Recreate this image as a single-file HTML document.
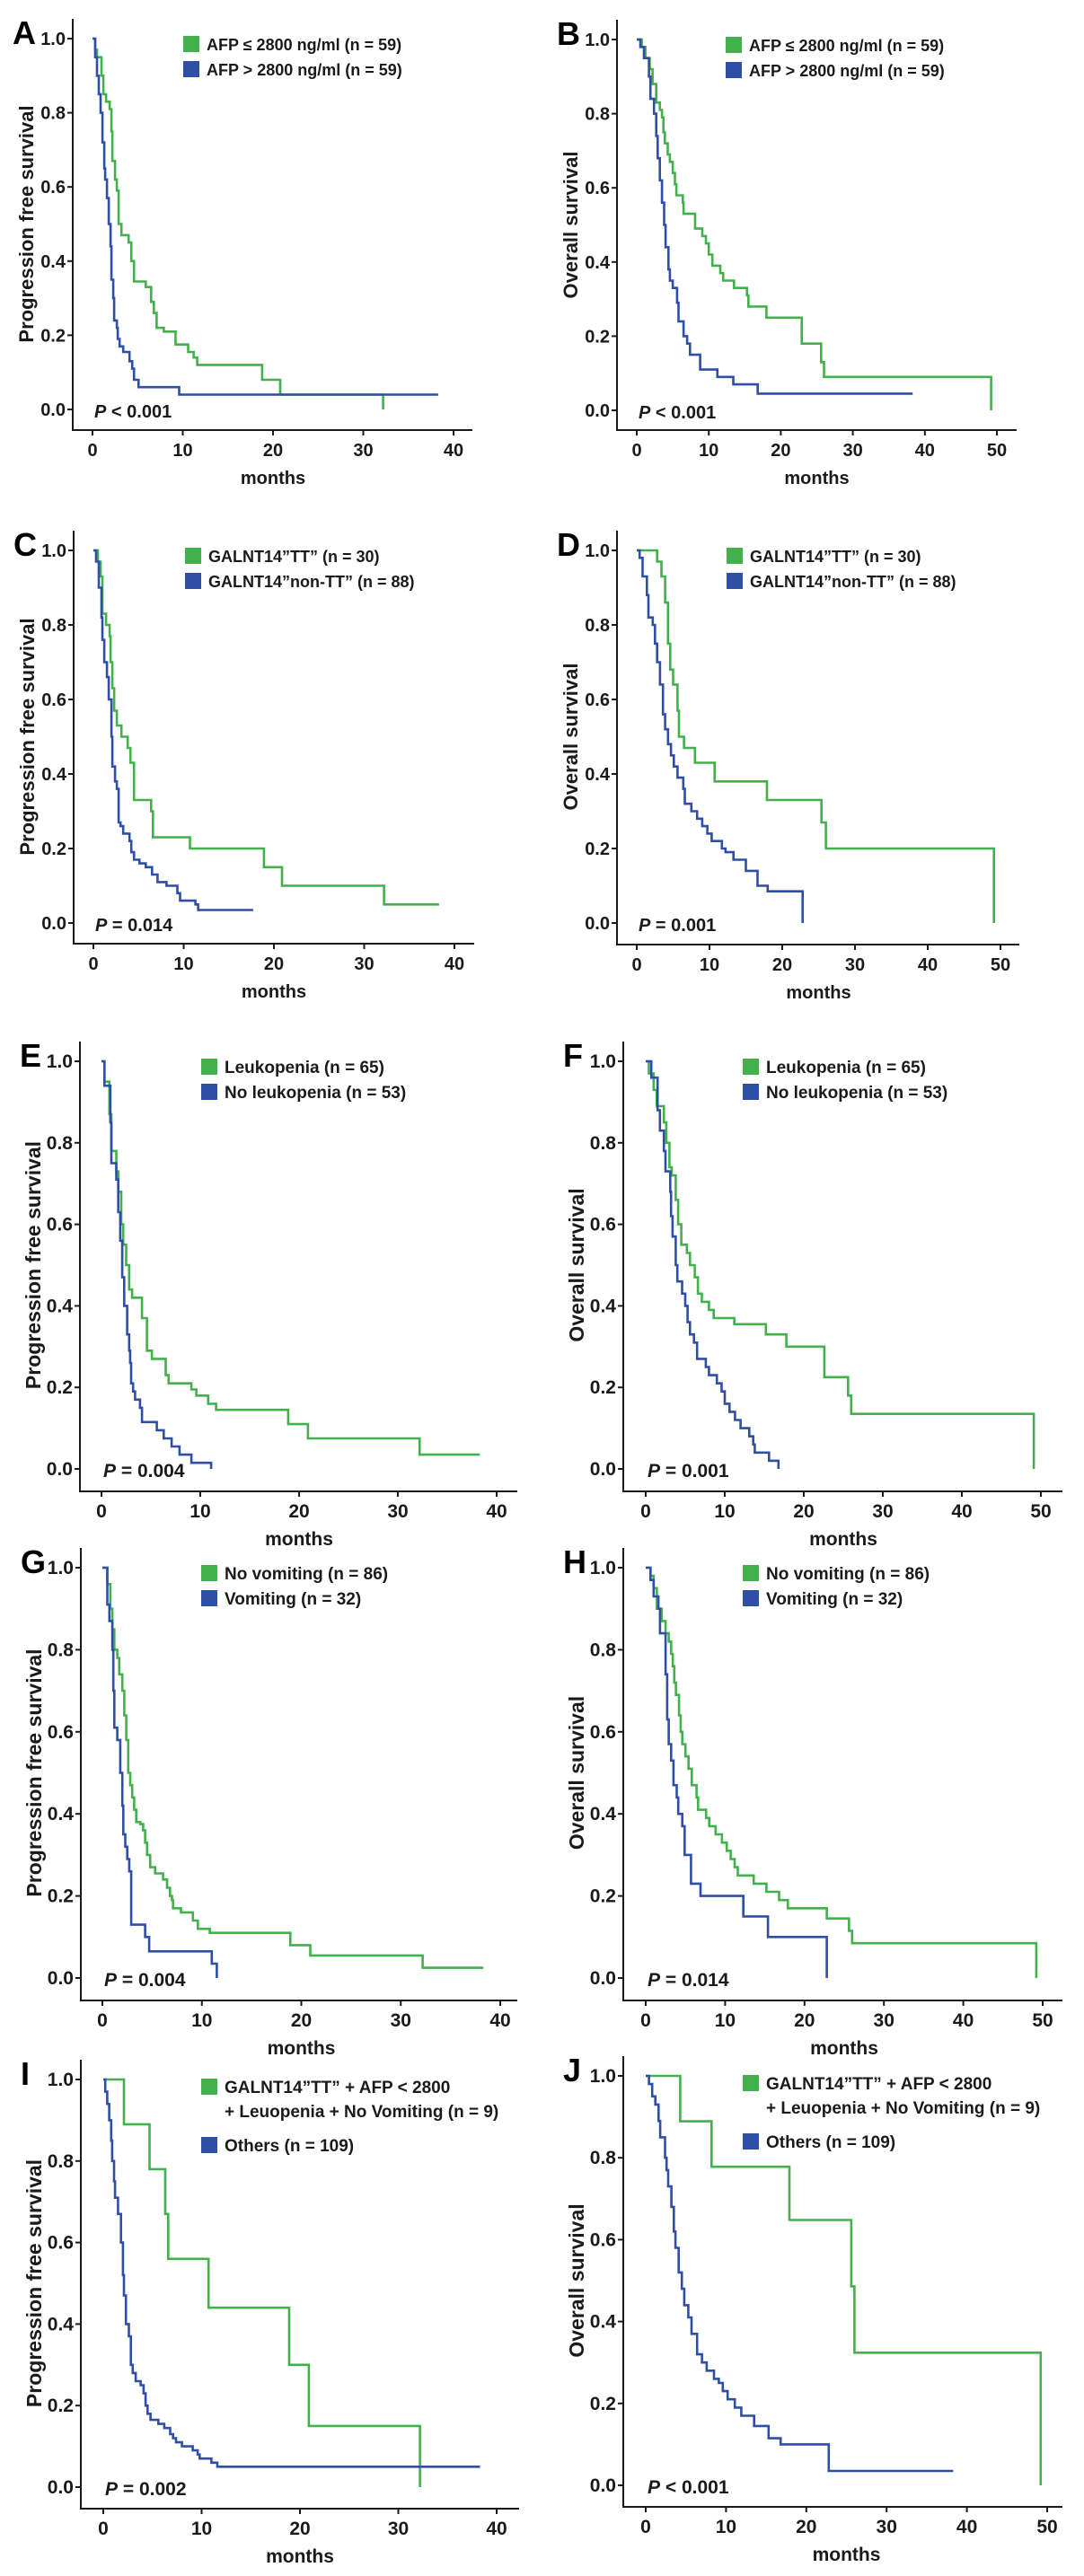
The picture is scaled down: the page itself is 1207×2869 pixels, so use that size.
<!DOCTYPE html>
<html><head><meta charset="utf-8"><style>
html,body{margin:0;padding:0;background:#fff}
svg{display:block;font-family:"Liberation Sans",Arial,sans-serif;font-weight:bold}
</style></head><body>
<svg id="fig" width="1207" height="2869" viewBox="0 0 1207 2869"></svg>
<script>
// ---- data (months of each step, survival after step, last follow-up) ----
const A_g_t=[0.3,0.5,1,1.2,1.5,1.9,2.1,2.2,2.5,2.7,2.9,3.2,4,4.3,4.6,5.9,6.5,6.8,7.1,7.9,9.2,10.6,11.2,11.6,18.8,20.8,32.2];
const A_g_s=[0.97,0.95,0.9,0.85,0.83,0.81,0.75,0.67,0.62,0.59,0.5,0.47,0.45,0.4,0.345,0.33,0.29,0.26,0.22,0.21,0.175,0.155,0.14,0.12,0.08,0.04,0];
const A_g_end=32.2;
const A_b_t=[0.3,0.5,0.7,0.9,1.1,1.3,1.4,1.6,1.8,2.0,2.1,2.3,2.4,2.7,2.8,3.0,3.4,4.1,4.4,4.6,5.1,9.6];
const A_b_s=[0.95,0.9,0.85,0.8,0.72,0.65,0.62,0.57,0.5,0.44,0.35,0.3,0.24,0.22,0.19,0.17,0.155,0.13,0.11,0.08,0.06,0.04];
const A_b_end=38.3;

const B_g_t=[0.7,1.2,1.8,2.2,2.7,3.2,3.5,3.7,3.9,4.3,4.6,5.0,5.3,5.5,6.4,6.5,8.1,9.1,9.6,10,10.5,11.6,12,13.5,15.3,15.5,18,22.9,25.6,26,49.2];
const B_g_s=[0.98,0.95,0.92,0.88,0.83,0.81,0.79,0.75,0.72,0.69,0.67,0.64,0.61,0.58,0.56,0.53,0.49,0.47,0.45,0.42,0.39,0.37,0.35,0.33,0.31,0.28,0.25,0.18,0.13,0.09,0];
const B_g_end=49.2;
const B_b_t=[0.5,1.0,1.7,1.9,2.4,2.7,2.9,3.2,3.5,3.8,4.0,4.4,4.6,5.0,5.6,5.8,6.5,7.0,7.4,8.8,11.2,13.4,16.8];
const B_b_s=[0.98,0.95,0.9,0.84,0.8,0.74,0.68,0.62,0.56,0.5,0.44,0.38,0.35,0.33,0.29,0.24,0.2,0.18,0.15,0.11,0.09,0.07,0.045];
const B_b_end=38.3;

const C_g_t=[0.5,0.8,1.0,1.4,1.8,1.9,2.1,2.3,2.6,3.1,3.8,4.1,4.5,6.4,6.6,10.7,18.9,20.9,32.2];
const C_g_s=[0.97,0.93,0.83,0.8,0.77,0.7,0.63,0.57,0.53,0.5,0.47,0.43,0.33,0.3,0.23,0.2,0.15,0.1,0.05];
const C_g_end=38.3;
const C_b_t=[0.3,0.6,0.9,1.0,1.2,1.5,1.7,2.0,2.1,2.4,2.6,2.8,3.0,3.3,4.0,4.2,4.5,5.1,5.8,6.5,7.1,8.1,9.3,9.6,11.3,11.6];
const C_b_s=[0.97,0.9,0.82,0.76,0.7,0.66,0.6,0.5,0.42,0.38,0.36,0.27,0.26,0.24,0.22,0.19,0.17,0.16,0.15,0.13,0.11,0.1,0.08,0.06,0.05,0.035];
const C_b_end=17.7;

const D_g_t=[2.8,3.4,3.9,4.3,4.6,5.0,5.6,5.8,6.5,8.0,10.7,17.9,25.4,26,49.1];
const D_g_s=[0.97,0.93,0.86,0.75,0.68,0.64,0.57,0.5,0.47,0.43,0.38,0.33,0.27,0.2,0];
const D_g_end=49.1;
const D_b_t=[0.4,0.8,1.4,1.6,2.2,2.5,2.8,3.2,3.6,3.9,4.3,4.7,5.1,5.6,6.4,6.6,7.5,8.3,9.0,9.7,10.3,11.7,12.2,13.3,15.0,16.6,18.0,22.8];
const D_b_s=[0.98,0.93,0.88,0.82,0.8,0.75,0.7,0.64,0.56,0.52,0.48,0.45,0.42,0.39,0.36,0.32,0.3,0.28,0.26,0.24,0.22,0.2,0.19,0.17,0.14,0.1,0.085,0];
const D_b_end=22.8;

const E_g_t=[0.3,0.8,1.0,1.5,1.7,2.0,2.2,2.5,2.8,3.1,4.1,4.6,5.1,6.5,6.8,9.1,9.6,10.8,11.6,18.9,20.9,32.2];
const E_g_s=[0.95,0.87,0.78,0.73,0.68,0.6,0.55,0.5,0.44,0.42,0.37,0.29,0.27,0.23,0.21,0.195,0.18,0.16,0.145,0.11,0.075,0.035];
const E_g_end=38.3;
const E_b_t=[0.3,0.9,1.0,1.5,1.7,1.9,2.1,2.3,2.6,2.8,2.9,3.0,3.2,3.4,3.9,4.1,5.6,6.3,7.1,7.9,9.1,11.1];
const E_b_s=[0.94,0.85,0.75,0.71,0.63,0.56,0.47,0.4,0.33,0.29,0.26,0.21,0.19,0.17,0.15,0.115,0.095,0.075,0.055,0.035,0.015,0];
const E_b_end=11.1;

const F_g_t=[0.4,1.0,1.4,2.3,2.6,3.0,3.3,3.8,4.1,4.5,5.2,5.6,6.2,6.6,7.1,8.0,8.6,11.2,15.2,17.8,22.6,25.6,26,49.1];
const F_g_s=[0.97,0.93,0.89,0.85,0.8,0.74,0.72,0.66,0.6,0.55,0.53,0.5,0.47,0.43,0.41,0.39,0.37,0.355,0.33,0.3,0.225,0.18,0.135,0];
const F_g_end=49.1;
const F_b_t=[0.7,1.5,1.8,2.3,2.5,3.1,3.2,3.4,3.8,4.0,4.6,5.0,5.3,5.6,6.1,6.5,7.6,8.0,9.0,9.6,10.0,10.6,11.3,12.0,13.1,13.6,13.8,15.6,16.8];
const F_b_s=[0.96,0.88,0.83,0.78,0.73,0.68,0.62,0.57,0.5,0.46,0.43,0.4,0.36,0.33,0.31,0.27,0.25,0.23,0.21,0.19,0.16,0.14,0.12,0.1,0.08,0.06,0.04,0.02,0];
const F_b_end=16.8;

const G_g_t=[0.5,0.8,1.0,1.2,1.5,1.7,2.0,2.2,2.4,2.6,2.8,3.0,3.2,3.4,3.8,4.1,4.3,4.5,4.8,5.3,6.1,6.5,6.8,7.0,7.1,7.9,9.1,9.6,10.8,18.9,20.9,32.2];
const G_g_s=[0.96,0.9,0.85,0.8,0.78,0.74,0.7,0.64,0.58,0.5,0.47,0.44,0.41,0.38,0.375,0.36,0.33,0.3,0.27,0.255,0.24,0.22,0.2,0.19,0.17,0.16,0.14,0.12,0.11,0.08,0.055,0.025];
const G_g_end=38.3;
const G_b_t=[0.5,0.7,1.0,1.1,1.2,1.5,1.8,2.0,2.1,2.3,2.5,2.7,2.9,4.3,4.7,11.0,11.5];
const G_b_s=[0.91,0.87,0.8,0.7,0.61,0.58,0.5,0.42,0.35,0.32,0.29,0.26,0.13,0.1,0.065,0.035,0];
const G_b_end=11.5;

const H_g_t=[0.6,1.0,1.4,2.0,2.5,2.9,3.2,3.4,3.6,3.8,4.2,4.4,4.6,5.0,5.4,5.8,6.4,6.6,7.6,8.0,8.8,9.6,10.2,10.7,11.2,11.6,13.6,15.2,16.8,17.9,22.8,25.6,26,49.2];
const H_g_s=[0.98,0.95,0.9,0.87,0.84,0.82,0.79,0.76,0.72,0.69,0.64,0.6,0.57,0.54,0.51,0.47,0.44,0.41,0.39,0.37,0.35,0.33,0.31,0.29,0.27,0.25,0.23,0.21,0.19,0.17,0.145,0.115,0.085,0];
const H_g_end=49.2;
const H_b_t=[0.6,1.0,1.6,1.8,2.5,2.7,2.9,3.2,3.5,3.9,4.1,4.6,4.9,5.7,6.9,12.3,15.4,22.8];
const H_b_s=[0.97,0.93,0.9,0.84,0.74,0.63,0.57,0.53,0.47,0.44,0.4,0.37,0.3,0.23,0.2,0.15,0.1,0];
const H_b_end=22.8;

const I_g_t=[2.1,4.7,6.3,6.6,10.7,18.9,20.9,32.2];
const I_g_s=[0.89,0.78,0.67,0.56,0.44,0.3,0.15,0];
const I_g_end=32.2;
const I_b_t=[0.2,0.4,0.6,0.8,0.9,1.1,1.2,1.5,1.8,2.0,2.1,2.3,2.6,2.8,3.0,3.3,3.8,4.1,4.3,4.5,4.8,5.6,6.2,6.8,7.1,7.4,8.0,9.1,9.6,9.8,11.0,11.6];
const I_b_s=[0.97,0.94,0.9,0.85,0.8,0.75,0.71,0.67,0.6,0.52,0.47,0.4,0.37,0.3,0.28,0.26,0.25,0.23,0.2,0.18,0.165,0.155,0.145,0.13,0.12,0.11,0.1,0.09,0.08,0.07,0.06,0.05];
const I_b_end=38.3;

const J_g_t=[4.3,8.2,17.9,25.6,26.0,49.2];
const J_g_s=[0.889,0.778,0.648,0.486,0.324,0];
const J_g_end=49.2;
const J_b_t=[0.4,0.8,1.2,1.6,1.8,2.4,2.6,2.8,3.2,3.5,3.7,4.1,4.5,4.8,5.3,5.7,6.4,7.0,7.6,8.5,9.1,9.6,10.2,11.1,11.9,13.5,15.3,16.8,22.8];
const J_b_s=[0.98,0.95,0.93,0.89,0.85,0.8,0.77,0.73,0.68,0.62,0.58,0.52,0.48,0.44,0.41,0.37,0.32,0.3,0.28,0.26,0.25,0.23,0.21,0.19,0.17,0.145,0.115,0.1,0.035];
const J_b_end=38.3;

const yTickVals=[0,0.2,0.4,0.6,0.8,1.0];
const yTickLabels=["0.0","0.2","0.4","0.6","0.8","1.0"];
const xTicks40=[0,10,20,30,40];
const xTicks50=[0,10,20,30,40,50];

const legendAFP=["AFP \u2264 2800 ng/ml (n = 59)","AFP > 2800 ng/ml (n = 59)"];
const legendGAL=["GALNT14\u201dTT\u201d (n = 30)","GALNT14\u201dnon-TT\u201d (n = 88)"];
const legendLEU=["Leukopenia (n = 65)","No leukopenia (n = 53)"];
const legendVOM=["No vomiting (n = 86)","Vomiting (n = 32)"];
const legendCOMB=["GALNT14\u201dTT\u201d + AFP < 2800","+ Leuopenia + No Vomiting (n = 9)","Others (n = 109)"];

// ---- layout ----
const GREEN="#43b14b", BLUE="#2f4ea6", INK="#1a1a1a";
const NS="http://www.w3.org/2000/svg";
const svg=document.getElementById('fig');
function mk(tag,attrs,parent){const e=document.createElementNS(NS,tag);for(const k in attrs)e.setAttribute(k,attrs[k]);(parent||svg).appendChild(e);return e;}

const panels=[
 {id:'A',ax:81,x0:103,xm:505,tmax:40,y1:43,y0:456,axY:479,right:526,ytitle:'Progression free survival',p:'< 0.001',leg:legendAFP,lx:204,g:[A_g_t,A_g_s,A_g_end],b:[A_b_t,A_b_s,A_b_end],fs:18,tfs:20},
 {id:'B',ax:687,x0:709,xm:1110,tmax:50,y1:44,y0:457,axY:479,right:1132,ytitle:'Overall survival',p:'< 0.001',leg:legendAFP,lx:808,g:[B_g_t,B_g_s,B_g_end],b:[B_b_t,B_b_s,B_b_end],fs:18,tfs:20},
 {id:'C',ax:82,x0:104,xm:506,tmax:40,y1:613,y0:1028,axY:1051,right:528,ytitle:'Progression free survival',p:'= 0.014',leg:legendGAL,lx:206,g:[C_g_t,C_g_s,C_g_end],b:[C_b_t,C_b_s,C_b_end],fs:18,tfs:20},
 {id:'D',ax:687,x0:709,xm:1114,tmax:50,y1:613,y0:1028,axY:1052,right:1135,ytitle:'Overall survival',p:'= 0.001',leg:legendGAL,lx:809,g:[D_g_t,D_g_s,D_g_end],b:[D_b_t,D_b_s,D_b_end],fs:18,tfs:20},
 {id:'E',ax:89,x0:113,xm:553,tmax:40,y1:1182,y0:1636,axY:1661,right:576,ytitle:'Progression free survival',p:'= 0.004',leg:legendLEU,lx:224,g:[E_g_t,E_g_s,E_g_end],b:[E_b_t,E_b_s,E_b_end],fs:19,tfs:21},
 {id:'F',ax:694,x0:719,xm:1159,tmax:50,y1:1182,y0:1636,axY:1661,right:1183,ytitle:'Overall survival',p:'= 0.001',leg:legendLEU,lx:827,g:[F_g_t,F_g_s,F_g_end],b:[F_b_t,F_b_s,F_b_end],fs:19,tfs:21},
 {id:'G',ax:90,x0:114,xm:557,tmax:40,y1:1746,y0:2203,axY:2228,right:576,ytitle:'Progression free survival',p:'= 0.004',leg:legendVOM,lx:224,g:[G_g_t,G_g_s,G_g_end],b:[G_b_t,G_b_s,G_b_end],fs:19,tfs:21},
 {id:'H',ax:694,x0:719,xm:1161,tmax:50,y1:1746,y0:2203,axY:2228,right:1183,ytitle:'Overall survival',p:'= 0.014',leg:legendVOM,lx:827,g:[H_g_t,H_g_s,H_g_end],b:[H_b_t,H_b_s,H_b_end],fs:19,tfs:21},
 {id:'I',ax:90,x0:115,xm:553,tmax:40,y1:2316,y0:2770,axY:2794,right:578,ytitle:'Progression free survival',p:'= 0.002',leg:legendCOMB,lx:224,g:[I_g_t,I_g_s,I_g_end],b:[I_b_t,I_b_s,I_b_end],fs:19,tfs:21},
 {id:'J',ax:694,x0:719,xm:1166,tmax:50,y1:2312,y0:2768,axY:2792,right:1183,ytitle:'Overall survival',p:'< 0.001',leg:legendCOMB,lx:827,g:[J_g_t,J_g_s,J_g_end],b:[J_b_t,J_b_s,J_b_end],fs:19,tfs:21}
];

panels.forEach(P=>{
  const L=P.id.toLowerCase();
  const g=mk('g',{});
  
  
  const sx=v=>P.x0+(P.xm-P.x0)*v/P.tmax;
  const sy=v=>P.y0-(P.y0-P.y1)*v;
  // axes
  const ya=mk('line',{x1:P.ax,y1:P.y1-22,x2:P.ax,y2:P.axY,stroke:INK,'stroke-width':2},g);
  
  
  const xa=mk('line',{x1:P.ax-1,y1:P.axY,x2:P.right,y2:P.axY,stroke:INK,'stroke-width':2},g);
  
  
  yTickVals.forEach((v,i)=>{
    mk('line',{x1:P.ax-6,y1:sy(v),x2:P.ax,y2:sy(v),stroke:INK,'stroke-width':2},g);
    const t=mk('text',{x:P.ax-8,y:sy(v)+7,'text-anchor':'end','font-size':P.tfs,fill:INK},g);
    t.textContent=yTickLabels[i];
    
    
  });
  const xt=P.tmax===40?xTicks40:xTicks50;
  xt.forEach(v=>{
    mk('line',{x1:sx(v),y1:P.axY,x2:sx(v),y2:P.axY+6,stroke:INK,'stroke-width':2},g);
    const t=mk('text',{x:sx(v),y:P.axY+29,'text-anchor':'middle','font-size':P.tfs,fill:INK},g);
    t.textContent=String(v);
    
    
  });
  const xl=mk('text',{x:(P.x0+P.xm)/2,y:P.axY+60,'text-anchor':'middle','font-size':P.tfs,fill:INK},g);
  xl.textContent='months';
  
  
  const cy=(P.y1+P.y0)/2;
  const yl=mk('text',{x:P.ax-52,y:cy,'text-anchor':'middle','font-size':P.tfs+2,fill:INK,transform:`rotate(-90 ${P.ax-52} ${cy})`,dy:8},g);
  yl.textContent=P.ytitle;
  
  
  const lt=mk('text',{x:P.ax-67,y:P.y1+6,'font-size':36,fill:'#000'},g);
  lt.textContent=P.id;
  
  
  const pv=mk('text',{x:P.x0+2,y:P.y0+9,'font-size':P.tfs,fill:INK},g);
  pv.innerHTML='<tspan font-style="italic">P</tspan> '+P.p.replace('<','&lt;');
  
  
  // curves
  [[P.g,GREEN,'green'],[P.b,BLUE,'blue']].forEach(([S,col,nm])=>{
    const [ts,ss,end]=S;
    let d=`M${sx(0)},${sy(1)}`;
    for(let i=0;i<ts.length;i++){d+=` H${sx(ts[i]).toFixed(1)} V${sy(ss[i]).toFixed(1)}`;}
    d+=` H${sx(end).toFixed(1)}`;
    const p=mk('path',{d:d,fill:'none',stroke:col,'stroke-width':2.6},g);
    
    
  });
  // legend
  const two=P.leg.length===3;
  const rows=two?[[GREEN,[P.leg[0],P.leg[1]],P.y1+8],[BLUE,[P.leg[2]],P.y1+73]]
                :[[GREEN,[P.leg[0]],P.y1+6],[BLUE,[P.leg[1]],P.y1+34]];
  rows.forEach(([col,lines,yc])=>{
    const r=mk('rect',{x:P.lx,y:yc-9,width:18,height:18,fill:col},g);
    
    
    lines.forEach((ln,k)=>{
      const t=mk('text',{x:P.lx+26,y:yc+7+k*27,'font-size':P.fs,fill:INK},g);
      t.textContent=ln;
      
      
    });
  });
});
</script>
</body></html>
